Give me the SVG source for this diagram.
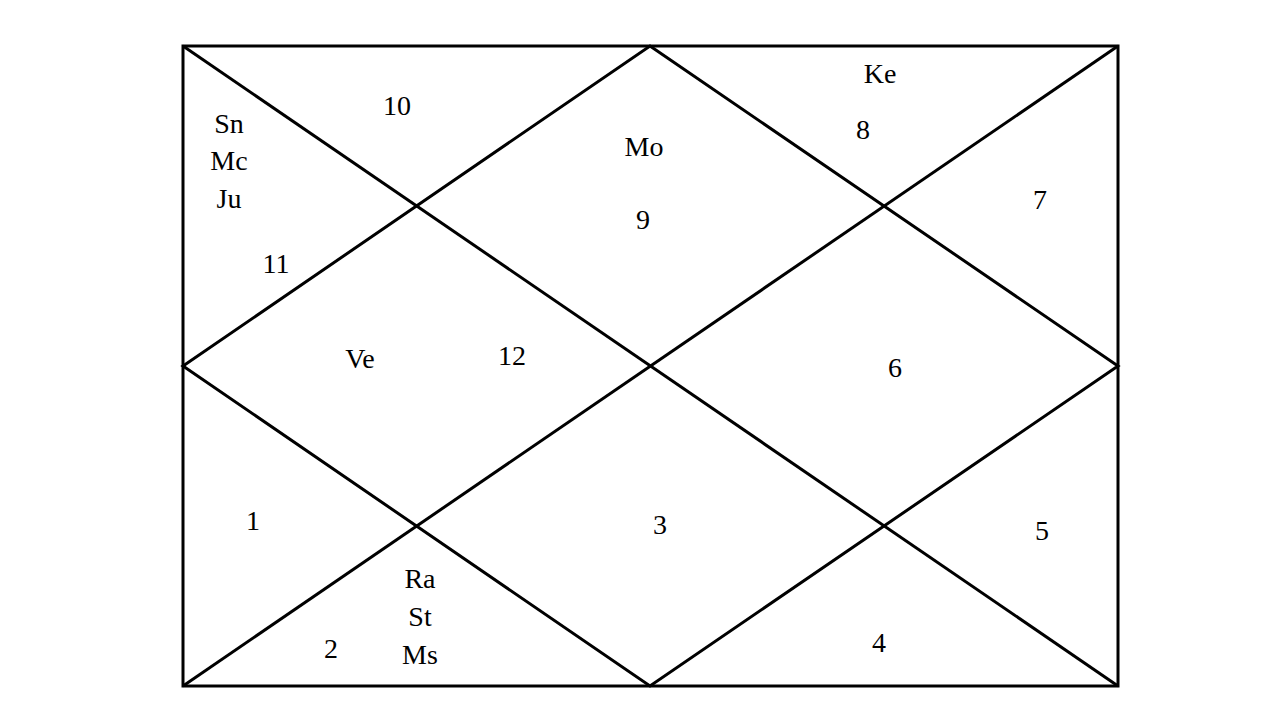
<svg xmlns="http://www.w3.org/2000/svg" width="1280" height="720" viewBox="0 0 1280 720">
<style>
.l{stroke:#000;stroke-width:3;fill:none}
text{font-family:"Liberation Serif","Times New Roman",serif;font-size:28px;text-anchor:middle;fill:#000}
</style>
<rect width="1280" height="720" fill="#fff"/>
<g id="connectors">
<rect class="l" x="183" y="46" width="935" height="640"/>
<line class="l" x1="183" y1="46" x2="1118" y2="686"/>
<line class="l" x1="1118" y1="46" x2="183" y2="686"/>
<polygon class="l" points="650,46 1118,366 650,686 183,366"/>
</g>
<g id="labels">
<text x="397" y="115">10</text>
<text x="229" y="133">Sn</text>
<text x="229" y="170">Mc</text>
<text x="229" y="208">Ju</text>
<text x="276" y="273">11</text>
<text x="644" y="156">Mo</text>
<text x="643" y="229">9</text>
<text x="880" y="83">Ke</text>
<text x="863" y="139">8</text>
<text x="1040" y="209">7</text>
<text x="360" y="368">Ve</text>
<text x="512" y="365">12</text>
<text x="895" y="377">6</text>
<text x="253" y="530">1</text>
<text x="660" y="534">3</text>
<text x="1042" y="540">5</text>
<text x="420" y="588">Ra</text>
<text x="420" y="626">St</text>
<text x="420" y="664">Ms</text>
<text x="331" y="658">2</text>
<text x="879" y="652">4</text>
</g>
</svg>
